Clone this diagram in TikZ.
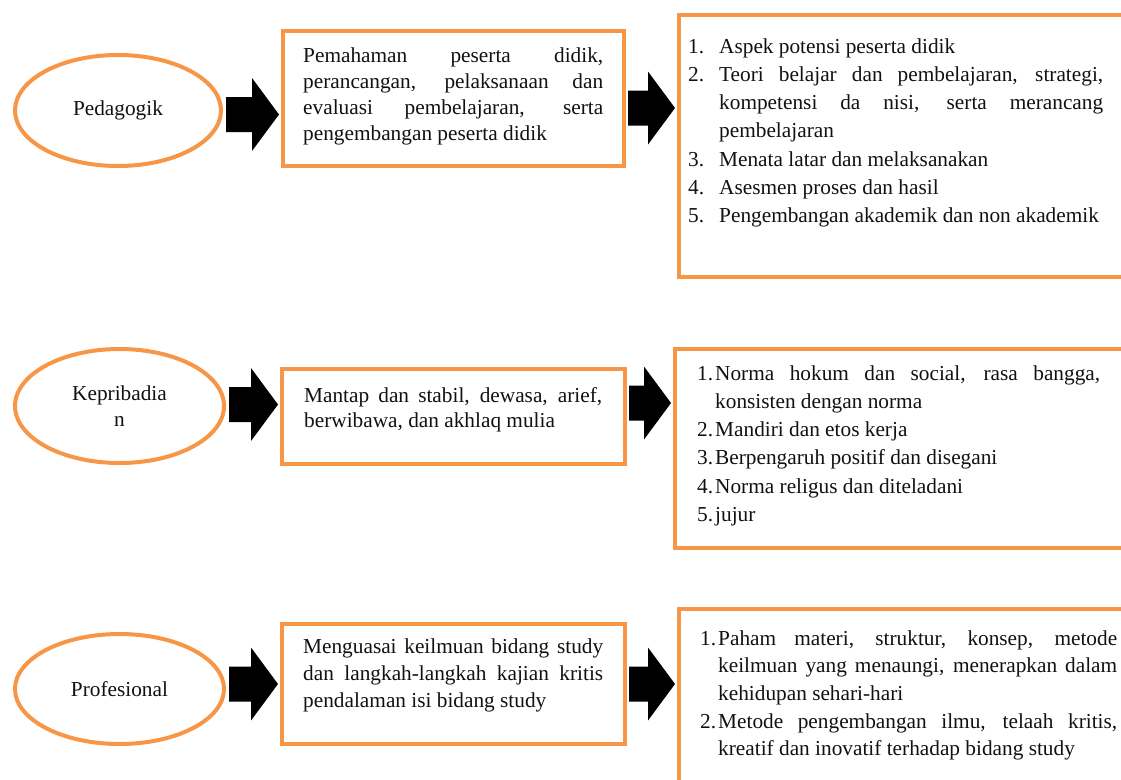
\documentclass[tikz,border=0pt]{standalone}
\usepackage{fontspec}
\setmainfont{Liberation Serif}
\usetikzlibrary{shapes.geometric,calc}
\definecolor{boxorange}{HTML}{F79646}
\definecolor{txt}{HTML}{111111}
\tikzset{
  oval/.style={ellipse, draw=boxorange, line width=4pt, inner sep=0pt, align=center,
    font=\fontsize{21.3}{26}\selectfont, text=txt},
  frame/.style={rectangle, draw=boxorange, line width=4pt, inner sep=0pt, fill=white},
  bodytext/.style={anchor=base west, inner sep=0pt, align=justify, text=txt},
  arrowfill/.style={fill=black},
}
\newcommand\numitem[3]{\hangindent=#1\hangafter=1\makebox[#1][l]{#2}#3\par}
\newcommand\blockarrow[4]{% #1 source node, #2 target node, #3 y centre (pt), #4 start offset
  \fill[arrowfill] let \p1=(#1.east), \p2=(#2.west) in
    ({\x1+#4pt},{#3pt+17.5pt}) -- ({\x2-29pt},{#3pt+17.5pt}) -- ({\x2-29pt},{#3pt+36.5pt})
    -- ({\x2-2pt},{#3pt}) -- ({\x2-29pt},{#3pt-36.5pt}) -- ({\x2-29pt},{#3pt-17.5pt})
    -- ({\x1+#4pt},{#3pt-17.5pt}) -- cycle;}
\begin{document}
\begin{tikzpicture}[x=1pt,y=1pt]
\useasboundingbox (0,0) rectangle (1121,-779);
\clip (0,0) rectangle (1121,-779);
\tolerance=10000 \hyphenpenalty=10000 \hbadness=10000
% ovals
\node[oval, minimum width=206pt, minimum height=111pt] (e1) at (118,-110.5) {Pedagogik};
\node[oval, minimum width=209pt, minimum height=114pt] (e2) at (119.5,-406) {Kepribadia\\n};
\node[oval, minimum width=209pt, minimum height=110pt] (e3) at (119.5,-689) {Profesional};
% middle boxes
\node[frame, minimum width=341pt, minimum height=135pt] (m1) at (453.5,-98.5) {};
\node[frame, minimum width=343pt, minimum height=95pt] (m2) at (453.5,-416.5) {};
\node[frame, minimum width=343pt, minimum height=120pt] (m3) at (453.5,-684) {};
% right boxes (cut by the picture edge)
\node[frame, minimum width=461pt, minimum height=262pt] (r1) at (909.5,-146) {};
\node[frame, minimum width=465pt, minimum height=199pt] (r2) at (907.5,-448.5) {};
\node[frame, minimum width=461pt, minimum height=211pt] (r3) at (909.5,-714.5) {};
% block arrows
\blockarrow{e1}{m1}{-114.5}{3}
\blockarrow{m1}{r1}{-108}{2}
\blockarrow{e2}{m2}{-404.5}{3}
\blockarrow{m2}{r2}{-403}{2}
\blockarrow{e3}{m3}{-684}{3}
\blockarrow{m3}{r3}{-684}{2}
% middle texts
\node[bodytext, text width=300pt, font=\fontsize{21.3}{26}\selectfont] (t1) at (303,-62)
  {Pemahaman peserta didik,\linebreak perancangan, pelaksanaan dan\linebreak evaluasi pembelajaran, serta\linebreak pengembangan peserta didik};
\node[bodytext, text width=298pt, font=\fontsize{21.3}{25.5}\selectfont] (t2) at (304,-402)
  {Mantap dan stabil, dewasa, arief,\linebreak berwibawa, dan akhlaq mulia};
\node[bodytext, text width=300pt, font=\fontsize{21.3}{27}\selectfont] (t3) at (303,-653)
  {Menguasai keilmuan bidang study\linebreak dan langkah-langkah kajian kritis\linebreak pendalaman isi bidang study};
% right texts
\node[bodytext, text width=415pt, font=\fontsize{21.3}{28.3}\selectfont] (l1) at (688,-53)
  {\numitem{31pt}{1.}{Aspek potensi peserta didik}
   \numitem{31pt}{2.}{Teori belajar dan pembelajaran, strategi,\linebreak kompetensi da nisi, serta merancang\linebreak pembelajaran}
   \numitem{31pt}{3.}{Menata latar dan melaksanakan}
   \numitem{31pt}{4.}{Asesmen proses dan hasil}
   \numitem{31pt}{5.}{Pengembangan akademik dan non akademik}};
\node[bodytext, text width=403pt, font=\fontsize{21.3}{28.3}\selectfont] (l2) at (697,-380)
  {\numitem{18pt}{1.}{Norma hokum dan social, rasa bangga,\linebreak konsisten dengan norma}
   \numitem{18pt}{2.}{Mandiri dan etos kerja}
   \numitem{18pt}{3.}{Berpengaruh positif dan disegani}
   \numitem{18pt}{4.}{Norma religus dan diteladani}
   \numitem{18pt}{5.}{jujur}};
\node[bodytext, text width=417pt, font=\fontsize{21.3}{27.7}\selectfont] (l3) at (700,-645)
  {\numitem{18pt}{1.}{Paham materi, struktur, konsep, metode\linebreak keilmuan yang menaungi, menerapkan dalam\linebreak kehidupan sehari-hari}
   \numitem{18pt}{2.}{Metode pengembangan ilmu, telaah kritis,\linebreak kreatif dan inovatif terhadap bidang study}};
\end{tikzpicture}
\end{document}
